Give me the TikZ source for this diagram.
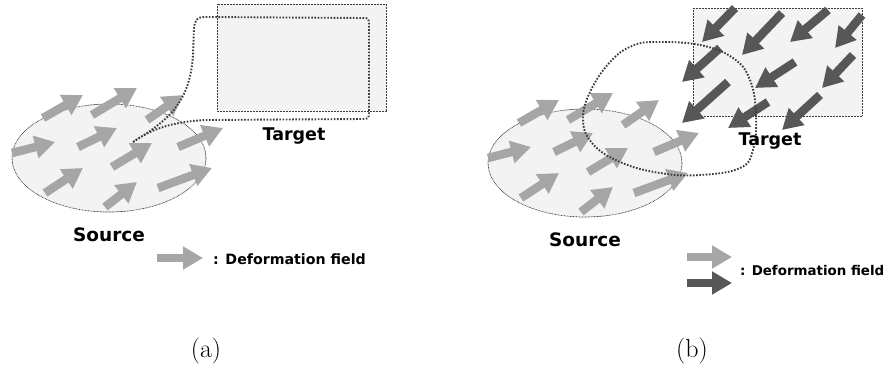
\documentclass[tikz,border=0pt]{standalone}
\usepackage{fontspec}
\newfontfamily\vfont{DejaVu Sans}
\usetikzlibrary{arrows.meta}
\definecolor{lightarr}{HTML}{A6A6A6}
\definecolor{darkarr}{HTML}{575757}
\definecolor{shapefill}{HTML}{F3F3F3}
\definecolor{dotcol}{HTML}{3C3C3C}
\begin{document}
\begin{tikzpicture}[x=1pt,y=-1pt,
  fatarrow/.style={line width=8.5pt,-{Triangle[width=22pt,length=20pt]}},
  lightfat/.style={fatarrow,draw=lightarr},
  darkfat/.style={fatarrow,draw=darkarr},
  region/.style={fill=shapefill,draw=dotcol,line width=0.7pt,dash pattern=on 0.8pt off 0.7pt},
  loopline/.style={draw=dotcol,line width=1.9pt,dash pattern=on 1.6pt off 1.6pt},
  biglabel/.style={font={\vfont\bfseries\fontsize{17.5}{20}\selectfont},inner sep=0pt,anchor=base},
  legendtext/.style={font={\vfont\bfseries\fontsize{14.2}{17}\selectfont},inner sep=0pt,anchor=west},
  caption/.style={font={\fontsize{26}{30}\selectfont},inner sep=0pt,anchor=base}]
\useasboundingbox (0,0) rectangle (893,365);

% ---------------- panel (a) ----------------
\draw[region] (217,4) rectangle (386,111);
\draw[region] (109,158) ellipse [x radius=97pt,y radius=54pt];
\coordinate (a1t) at (43,118);  \coordinate (a1h) at (83,95);
\coordinate (a2t) at (92,115);  \coordinate (a2h) at (137,88);
\coordinate (a3t) at (147,120); \coordinate (a3h) at (183,95);
\coordinate (a4t) at (12,153);  \coordinate (a4h) at (55,142);
\coordinate (a5t) at (78,147);  \coordinate (a5h) at (117,128);
\coordinate (a6t) at (112,167); \coordinate (a6h) at (152,143);
\coordinate (a7t) at (178,147); \coordinate (a7h) at (223,128);
\coordinate (a8t) at (45,193);  \coordinate (a8h) at (83,168);
\coordinate (a9t) at (105,207); \coordinate (a9h) at (137,182);
\coordinate (a10t) at (158,188); \coordinate (a10h) at (212,168);
\foreach \i in {1,...,10} \draw[lightfat] (a\i t) -- (a\i h);
\draw[loopline] (133,142) .. controls (165,122) and (190,105) .. (193,55)
  -- (194,28) .. controls (195,20) and (197,17) .. (205,17)
  -- (364,18) .. controls (368,18) and (369,19) .. (369,24)
  -- (369,113) .. controls (369,118) and (368,119) .. (363,119)
  -- (205,120) .. controls (170,122) and (150,130) .. (133,142);
\node[biglabel] (targetA) at (294,140) {Target};
\node[biglabel,font={\vfont\bfseries\fontsize{18.5}{21}\selectfont}] (sourceA) at (109,241) {Source};
\coordinate (legAt) at (157,258); \coordinate (legAh) at (203,258);
\draw[lightfat] (legAt) -- (legAh);
\node[legendtext] (legA) at (213,259) {: Deformation field};
\node[caption] (capA) at (206,357) {(a)};

% ---------------- panel (b) ----------------
\draw[region] (693,8) rectangle (862,116);
\draw[region] (585,163) ellipse [x radius=97pt,y radius=54pt];
\foreach \i in {1,...,10} \draw[lightfat] ([shift={(476,5)}]a\i t) -- ([shift={(476,5)}]a\i h);
\coordinate (d1t) at (735,8);   \coordinate (d1h) at (702,42);
\coordinate (d2t) at (782,13);  \coordinate (d2h) at (742,55);
\coordinate (d3t) at (828,10);  \coordinate (d3h) at (790,42);
\coordinate (d4t) at (862,15);  \coordinate (d4h) at (835,48);
\coordinate (d5t) at (720,48);  \coordinate (d5h) at (682,82);
\coordinate (d6t) at (795,62);  \coordinate (d6h) at (755,88);
\coordinate (d7t) at (853,55);  \coordinate (d7h) at (822,88);
\coordinate (d8t) at (728,82);  \coordinate (d8h) at (682,123);
\coordinate (d9t) at (768,102); \coordinate (d9h) at (728,128);
\coordinate (d10t) at (820,95); \coordinate (d10h) at (782,130);
\foreach \i in {1,...,10} \draw[darkfat] (d\i t) -- (d\i h);
\draw[loopline] plot[smooth cycle,tension=0.7] coordinates {
  (655,42) (700,45) (733,58) (750,80) (756,115) (753,150) (740,168)
  (700,175) (660,173) (620,162) (592,143) (583,118) (592,88) (612,60) (632,46)};
\node[biglabel] (targetB) at (770,145) {Target};
\node[biglabel,font={\vfont\bfseries\fontsize{18.5}{21}\selectfont}] (sourceB) at (585,246) {Source};
\coordinate (legBt) at (687,257); \coordinate (legBh) at (732,257);
\coordinate (legCt) at (687,283); \coordinate (legCh) at (732,283);
\draw[lightfat] (legBt) -- (legBh);
\draw[darkfat] (legCt) -- (legCh);
\node[legendtext,font={\vfont\bfseries\fontsize{13.4}{16}\selectfont}] (legB) at (740,270) {: Deformation field};
\node[caption] (capB) at (692,357) {(b)};
\end{tikzpicture}
\end{document}
